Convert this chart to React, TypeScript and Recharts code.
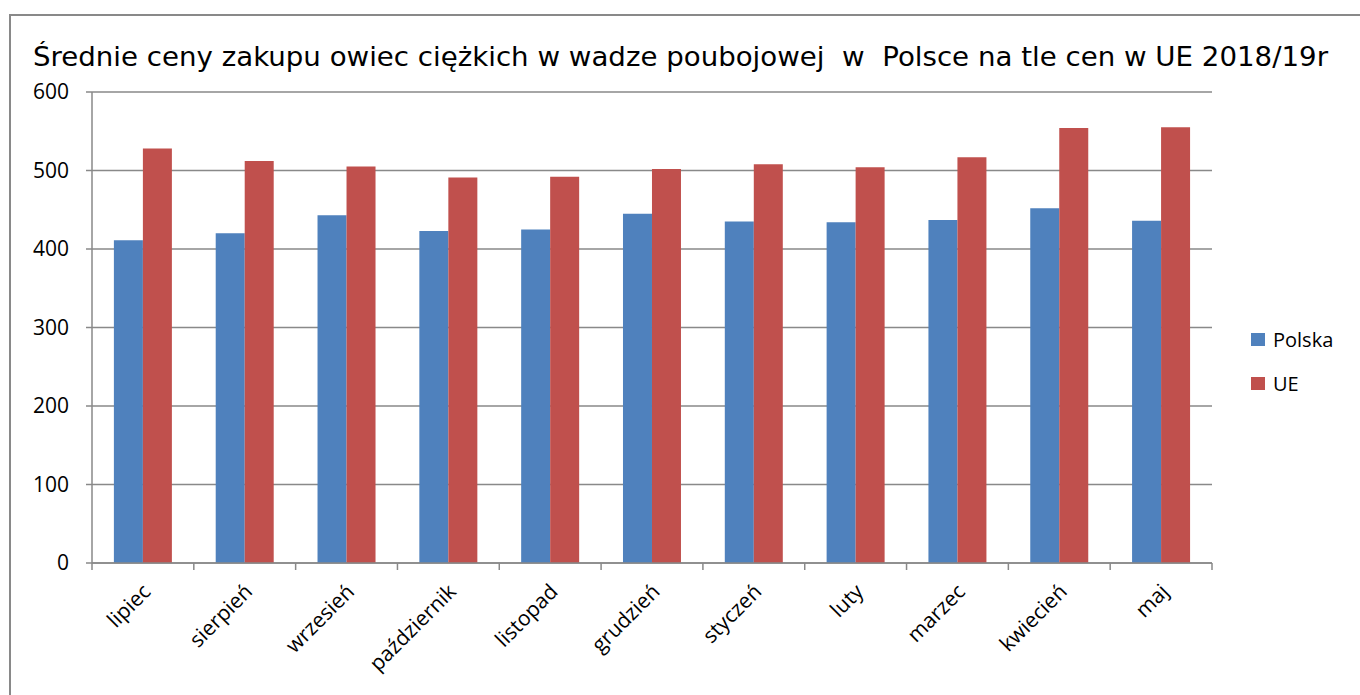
import React from "react";
import { BarChart, Bar, XAxis, YAxis, CartesianGrid, Legend } from "recharts";

const months = ["lipiec", "sierpień", "wrzesień", "październik", "listopad", "grudzień", "styczeń", "luty", "marzec", "kwiecień", "maj"];
const polska = [411, 420, 443, 423, 425, 445, 435, 434, 437, 452, 436];
const ue = [528, 512, 505, 491, 492, 502, 508, 504, 517, 554, 555];
const yTicks = [0, 100, 200, 300, 400, 500, 600];
const seriesNames = ["Polska", "UE"];
const seriesColors = ["#4F81BD", "#C0504D"];
const title = "Średnie ceny zakupu owiec ciężkich w wadze poubojowej  w  Polsce na tle cen w UE 2018/19r";

const data = months.map((m, i) => ({ month: m, Polska: polska[i], UE: ue[i] }));

const W = 1360;
const H = 695;
const MARGIN = { top: 92, right: 148, bottom: 32, left: 0 };
const YAXIS_W = 92;
const XAXIS_H = 100;
const BAND = (W - MARGIN.left - MARGIN.right - YAXIS_W) / months.length;
const FONT = "'Open Sans', sans-serif";
const GRAY = "#898989";

const XTick = (props: any) => {
  const { x, y, payload, index } = props;
  const left = x - BAND / 2;
  const ax = x + 9;
  const ay = y + 22;
  return (
    <g>
      <line x1={left} y1={y - 8} x2={left} y2={y - 1} stroke={GRAY} strokeWidth={1.5} />
      {index === months.length - 1 && (
        <line x1={x + BAND / 2} y1={y - 8} x2={x + BAND / 2} y2={y - 1} stroke={GRAY} strokeWidth={1.5} />
      )}
      <text
        x={ax}
        y={ay}
        transform={`rotate(-45, ${ax}, ${ay})`}
        textAnchor="end"
        fontFamily={FONT}
        fontSize={21}
        fill="#000"
      >
        {payload.value}
      </text>
    </g>
  );
};

const LegendContent = () => (
  <div style={{ fontFamily: FONT, fontSize: 20, color: "#000" }}>
    {seriesNames.map((n, i) => (
      <div key={n} style={{ display: "flex", alignItems: "center", height: 26, marginBottom: i === 0 ? 18 : 0 }}>
        <span style={{ display: "inline-block", width: 14, height: 13, background: seriesColors[i], marginRight: 8 }} />
        <span>{n}</span>
      </div>
    ))}
  </div>
);

export default function App() {
  return (
    <div style={{ position: "absolute", left: 0, top: 0, width: W, height: H, overflow: "hidden", background: "#fff" }}>
      <div
        style={{
          position: "absolute",
          left: 9,
          top: 14,
          width: W + 50,
          height: H + 50,
          border: `2px solid ${GRAY}`,
          boxSizing: "border-box",
        }}
      />
      <svg width={W} height={80} style={{ position: "absolute", left: 0, top: 0 }}>
        <text
          x={33}
          y={66}
          fontFamily="'Comic Sans MS', 'DejaVu Sans', sans-serif"
          fontSize={27}
          textLength={1295}
          lengthAdjust="spacingAndGlyphs"
          fill="#000"
          style={{ whiteSpace: "pre" }}
          xmlSpace="preserve"
        >
          {title}
        </text>
      </svg>
      <div style={{ position: "absolute", left: 0, top: 0 }}>
        <BarChart
          width={W}
          height={H}
          data={data}
          margin={MARGIN}
          barCategoryGap="21.5%"
          barGap={0}
        >
          <CartesianGrid vertical={false} stroke={GRAY} strokeWidth={1.5} />
          <XAxis
            dataKey="month"
            height={XAXIS_H}
            interval={0}
            stroke={GRAY}
            strokeWidth={1.5}
            tickLine={false}
            tick={<XTick />}
          />
          <YAxis
            width={YAXIS_W}
            domain={[0, 600]}
            ticks={yTicks}
            interval={0}
            stroke={GRAY}
            strokeWidth={1.5}
            tickSize={6}
            tickMargin={17}
            tick={{ fontFamily: FONT, fontSize: 21, fill: "#000" }}
          />
          <Legend
            layout="vertical"
            verticalAlign="middle"
            align="center"
            content={<LegendContent />}
            wrapperStyle={{ left: 1251, top: 326, width: 105 }}
          />
          {seriesNames.map((n, i) => (
            <Bar key={n} dataKey={n} fill={seriesColors[i]} isAnimationActive={false} />
          ))}
        </BarChart>
      </div>
    </div>
  );
}
